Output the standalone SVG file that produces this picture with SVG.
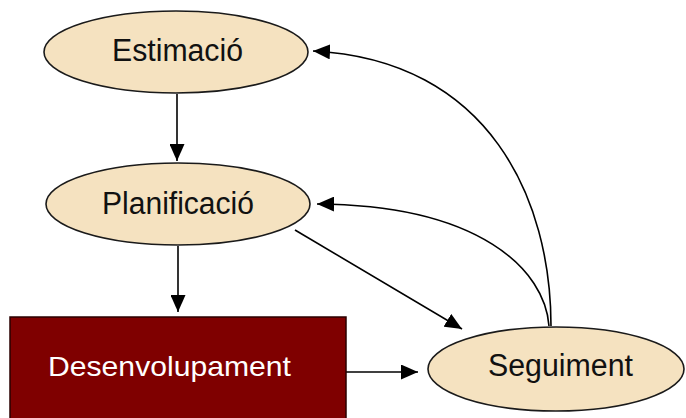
<svg xmlns="http://www.w3.org/2000/svg" width="686" height="418" viewBox="0 0 686 418">
  <defs>
    <marker id="arrow" markerUnits="userSpaceOnUse" markerWidth="17" markerHeight="15" refX="17" refY="7.5" orient="auto">
      <path d="M0,0 L17,7.5 L0,15 z" fill="#000"/>
    </marker>
  </defs>
  <style>
    .node-ellipse { fill: #F5E2C0; stroke: #1a1a1a; stroke-width: 1.6; }
    .node-rect { fill: #7F0000; stroke: #2a0000; stroke-width: 1.5; }
    .label { font-family: "Liberation Sans", Arial, sans-serif; text-anchor: middle; }
    .dark { fill: #111; font-size: 31px; }
    .light { fill: #fff; font-size: 28px; }
    .edge { fill: none; stroke: #000; stroke-width: 1.6; marker-end: url(#arrow); }
  </style>
  <rect width="686" height="418" fill="#fff"/>

  <g id="connectors">
    <path class="edge" d="M177,94 L177,161"/>
    <path class="edge" d="M178,246 L178,312"/>
    <path class="edge" d="M346,372 L418,372"/>
    <path class="edge" d="M295,230 L462,329"/>
    <path class="edge" d="M551,326 C551,200 490,60 313,51"/>
    <path class="edge" d="M549,326 C545,270 480,205 317,204"/>
  </g>

  <g id="estimacio">
    <ellipse class="node-ellipse" cx="176" cy="52" rx="132" ry="41"/>
    <text class="label dark" x="177.5" y="61" textLength="131" lengthAdjust="spacingAndGlyphs">Estimació</text>
  </g>

  <g id="planificacio">
    <ellipse class="node-ellipse" cx="178" cy="204" rx="132" ry="41"/>
    <text class="label dark" x="178" y="214" textLength="152" lengthAdjust="spacingAndGlyphs">Planificació</text>
  </g>

  <g id="desenvolupament">
    <rect class="node-rect" x="10" y="317" width="336" height="110"/>
    <text class="label light" x="169.5" y="376" textLength="243" lengthAdjust="spacingAndGlyphs">Desenvolupament</text>
  </g>

  <g id="seguiment">
    <ellipse class="node-ellipse" cx="556" cy="369" rx="128" ry="42"/>
    <text class="label dark" x="560.5" y="376" textLength="145" lengthAdjust="spacingAndGlyphs">Seguiment</text>
  </g>
</svg>
